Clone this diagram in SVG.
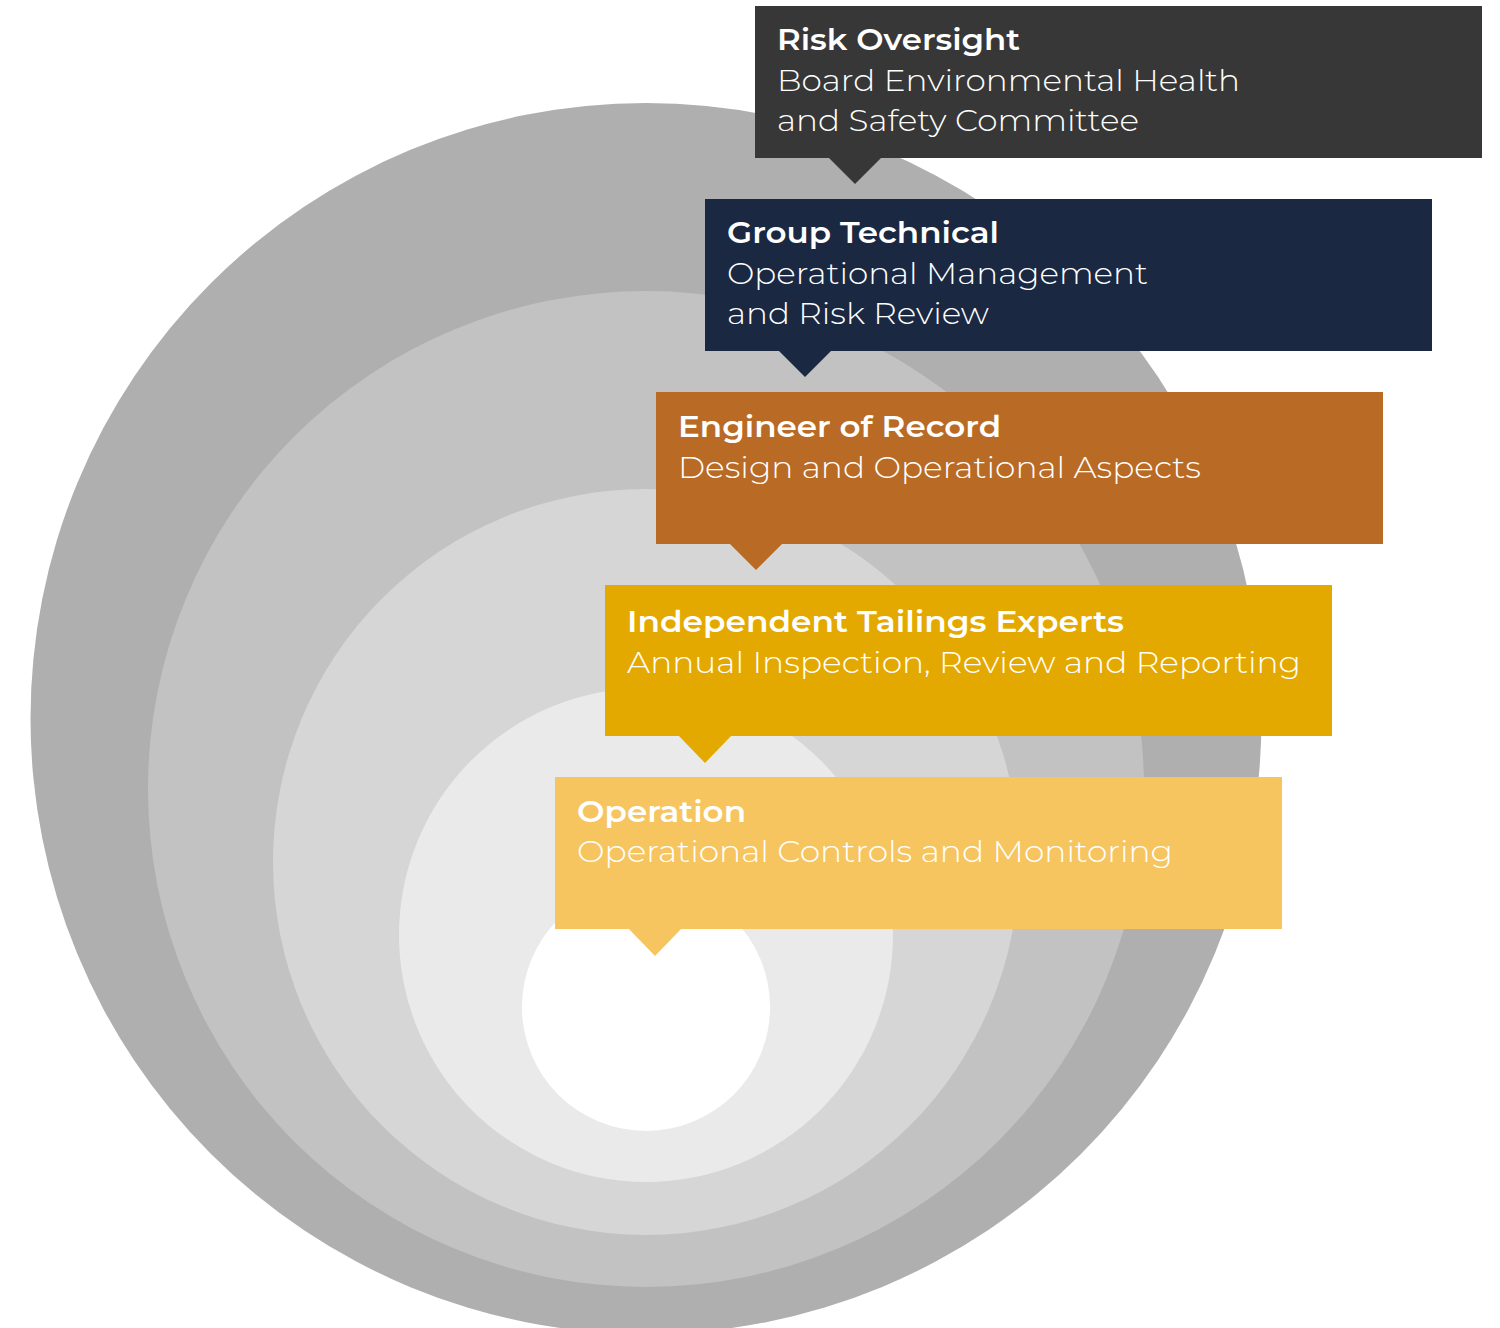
<svg xmlns="http://www.w3.org/2000/svg" width="1500" height="1328" viewBox="0 0 1500 1328">
  <style>
    .title { font-family: "Montserrat", "Inter", "Open Sans", sans-serif; font-weight: 600; font-size: 30px; fill: #ffffff; }
    .sub { font-family: "Montserrat", "Inter", "Open Sans", sans-serif; font-weight: 300; font-size: 30px; fill: #ffffff; }
  </style>
  <rect x="0" y="0" width="1500" height="1328" fill="#ffffff"/>
  <g id="rings">
    <circle cx="646" cy="718.5" r="615.5" fill="#afafaf"/>
    <circle cx="646" cy="789" r="498" fill="#c2c2c2"/>
    <circle cx="646" cy="862" r="373" fill="#d6d6d6"/>
    <circle cx="646" cy="935" r="247" fill="#eaeaea"/>
    <circle cx="646" cy="1007" r="124" fill="#ffffff"/>
  </g>
  <g id="connectors"></g>
  <g id="risk-oversight">
    <rect x="755" y="6" width="727" height="152" fill="#373737"/>
    <polygon points="828,157 882,157 855,184" fill="#373737"/>
    <text class="title" x="777" y="50" textLength="243" lengthAdjust="spacingAndGlyphs">Risk Oversight</text>
    <text class="sub" x="777" y="91" textLength="463" lengthAdjust="spacingAndGlyphs">Board Environmental Health</text>
    <text class="sub" x="777" y="131" textLength="362" lengthAdjust="spacingAndGlyphs">and Safety Committee</text>
  </g>
  <g id="group-technical">
    <rect x="705" y="199" width="727" height="152" fill="#1a2842"/>
    <polygon points="778,350 832,350 805,377" fill="#1a2842"/>
    <text class="title" x="727" y="243" textLength="272" lengthAdjust="spacingAndGlyphs">Group Technical</text>
    <text class="sub" x="727" y="284" textLength="421" lengthAdjust="spacingAndGlyphs">Operational Management</text>
    <text class="sub" x="727" y="324" textLength="262" lengthAdjust="spacingAndGlyphs">and Risk Review</text>
  </g>
  <g id="engineer-of-record">
    <rect x="656" y="392" width="727" height="152" fill="#b96a25"/>
    <polygon points="729,543 783,543 756,570" fill="#b96a25"/>
    <text class="title" x="678" y="437" textLength="323" lengthAdjust="spacingAndGlyphs">Engineer of Record</text>
    <text class="sub" x="678" y="478" textLength="523" lengthAdjust="spacingAndGlyphs">Design and Operational Aspects</text>
  </g>
  <g id="independent-tailings-experts">
    <rect x="605" y="585" width="727" height="151" fill="#e4a900"/>
    <polygon points="678,735 732,735 705,763" fill="#e4a900"/>
    <text class="title" x="627" y="632" textLength="497" lengthAdjust="spacingAndGlyphs">Independent Tailings Experts</text>
    <text class="sub" x="627" y="673" textLength="674" lengthAdjust="spacingAndGlyphs">Annual Inspection, Review and Reporting</text>
  </g>
  <g id="operation">
    <rect x="555" y="777" width="727" height="152" fill="#f6c560"/>
    <polygon points="628,928 682,928 655,956" fill="#f6c560"/>
    <text class="title" x="577" y="822" textLength="169" lengthAdjust="spacingAndGlyphs">Operation</text>
    <text class="sub" x="577" y="862" textLength="596" lengthAdjust="spacingAndGlyphs">Operational Controls and Monitoring</text>
  </g>
</svg>
